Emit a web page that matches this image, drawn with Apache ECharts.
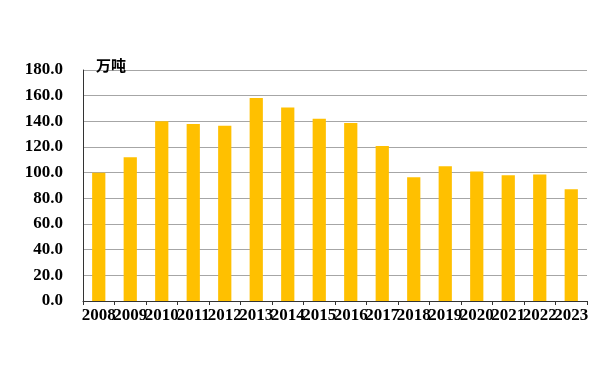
<!DOCTYPE html>
<html>
<head>
<meta charset="utf-8">
<script src="https://cdn.jsdelivr.net/npm/echarts@6/dist/echarts.min.js"></script>
<style>
html,body{margin:0;padding:0;background:#fff;}
#c{width:600px;height:383px;}
</style>
</head>
<body>
<div id="c"></div>
<script>
const categories = ['2008','2009','2010','2011','2012','2013','2014','2015','2016','2017','2018','2019','2020','2021','2022','2023'];
const values = [100, 112, 140, 138, 136.5, 158.2, 150.7, 142, 138.7, 120.8, 96.5, 105, 101, 98, 98.5, 87];
const unitLabel = '万吨';
const yMin = 0, yMax = 180, yInterval = 20;

const chart = echarts.init(document.getElementById('c'), null, {renderer:'canvas'});
chart.setOption({
  animation: false,
  backgroundColor: '#fff',
  title: {
    text: unitLabel,
    left: 91, top: 53,
    textStyle: {fontSize: 15, fontWeight: 'bold', color: '#000', fontFamily: 'Noto Sans CJK SC'}
  },
  grid: {left: 83, right: 13, top: 70, bottom: 82, containLabel: false},
  xAxis: {
    type: 'category',
    data: categories,
    axisLine: {show: true, lineStyle: {color: '#333', width: 1}},
    axisTick: {show: true, alignWithLabel: false, length: 4, lineStyle: {color: '#333'}},
    axisLabel: {
      interval: 0, hideOverlap: false, margin: 6,
      color: '#000', fontSize: 17, fontFamily: 'Liberation Serif', fontWeight: 'bold'
    },
    splitLine: {show: false}
  },
  yAxis: {
    type: 'value',
    min: yMin, max: yMax, interval: yInterval,
    axisLine: {show: true, lineStyle: {color: '#333', width: 1}},
    axisTick: {show: false},
    axisLabel: {
      margin: 20, color: '#000', fontSize: 17, fontWeight: 'bold', fontFamily: 'Liberation Serif',
      formatter: v => v.toFixed(1)
    },
    splitLine: {show: true, lineStyle: {color: '#a6a6a6', width: 1}}
  },
  series: [{
    type: 'bar',
    data: values,
    barWidth: '42%',
    itemStyle: {color: '#FFC000'}
  }]
});
</script>
</body>
</html>
